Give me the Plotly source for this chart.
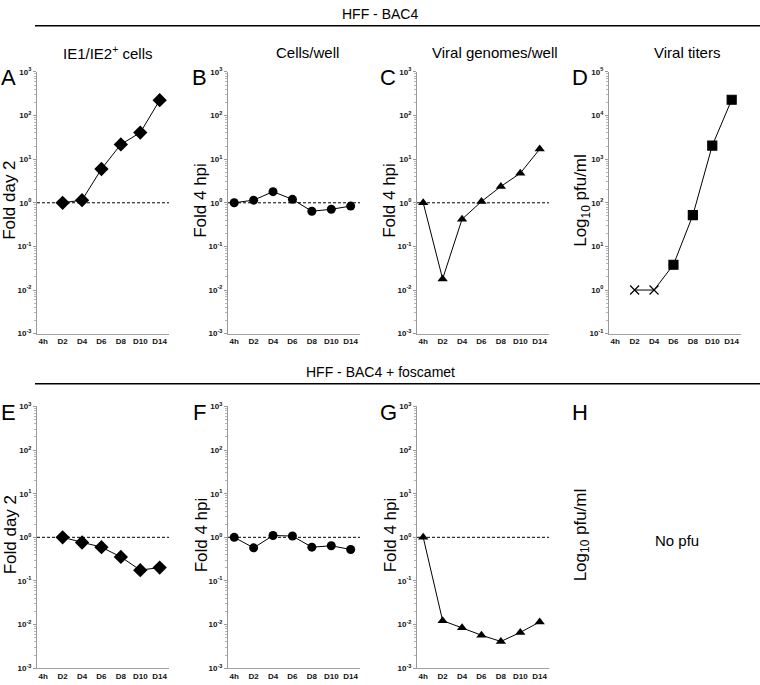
import plotly.graph_objects as go

# ---------------- data ----------------
categories = ["4h", "D2", "D4", "D6", "D8", "D10", "D14"]

ie_bac4 = [None, 1.0, 1.15, 5.95, 21.8, 40.6, 225]
cells_bac4 = [1.0, 1.15, 1.8, 1.2, 0.64, 0.71, 0.84]
genomes_bac4 = [1.0, 0.018, 0.42, 1.07, 2.37, 4.75, 17]
titers_bac4 = [None, 1.0, 1.0, 3.8, 52, 2050, 23000]
titer_symbols = ["x-thin", "x-thin", "x-thin", "square", "square", "square", "square"]

ie_fos = [None, 1.0, 0.76, 0.595, 0.355, 0.177, 0.203]
cells_fos = [1.0, 0.575, 1.1, 1.07, 0.595, 0.64, 0.527]
genomes_fos = [1.0, 0.0123, 0.0084, 0.0057, 0.0041, 0.0066, 0.0115]

fold_ticks = [-3, -2, -1, 0, 1, 2, 3]
titer_ticks = [-1, 0, 1, 2, 3, 4, 5]

col_titles = ["IE1/IE2<sup>+</sup> cells", "Cells/well", "Viral genomes/well", "Viral titers"]
row_headers = ["HFF - BAC4", "HFF - BAC4 + foscamet"]
panel_letters = ["A", "B", "C", "D", "E", "F", "G", "H"]
y_titles = ["Fold day 2", "Fold 4 hpi", "Fold 4 hpi", "Log<sub>10</sub> pfu/ml"]

# ---------------- layout helpers ----------------
W, H = 760, 685
FONT = "Liberation Sans, Arial, Helvetica, sans-serif"


def px(x, y):
    return x / W, 1 - y / H


col_x0 = [37, 228, 417, 609]
col_w = 132
row_y = [(67, 333), (407, 673)]  # top pixel, bottom pixel of plotting area

fig = go.Figure()

series = [
    (ie_bac4, "diamond", 11, True),
    (cells_bac4, "circle", 9, True),
    (genomes_bac4, "triangle-up", 9, True),
    (titers_bac4, None, 9, False),
    (ie_fos, "diamond", 11, True),
    (cells_fos, "circle", 9, True),
    (genomes_fos, "triangle-up", 9, True),
    (None, None, 9, False),
]

idx = list(range(len(categories)))


def sup(e):
    return "10<sup>%d</sup>" % e


def ann(text, x, y, size, angle=0):
    ax, ay = px(x, y)
    fig.add_annotation(text=text, x=ax, y=ay, xref="paper", yref="paper",
                       xanchor="center", yanchor="middle", textangle=angle,
                       showarrow=False, font=dict(family=FONT, size=size, color="black"))


tickfont = dict(family=FONT, size=8, color="#111", weight="bold")

for k in range(8):
    r, c = divmod(k, 4)
    n = k + 1
    xa = "x" if n == 1 else "x%d" % n
    ya = "y" if n == 1 else "y%d" % n
    xkey = "xaxis" if n == 1 else "xaxis%d" % n
    ykey = "yaxis" if n == 1 else "yaxis%d" % n
    top, bot = row_y[r]
    x0 = col_x0[c]
    ticks = titer_ticks if c == 3 else fold_ticks

    fig.layout[xkey] = dict(
        domain=[x0 / W, (x0 + col_w) / W],
        anchor=ya,
        range=[-0.32, 6.48],
        tickmode="array",
        tickvals=idx,
        ticktext=categories,
        showline=True,
        linecolor="#a0a0a0",
        linewidth=1,
        ticks="",
        showgrid=False,
        zeroline=False,
        tickfont=tickfont,
        fixedrange=True,
    )
    fig.layout[ykey] = dict(
        domain=[1 - bot / H, 1 - top / H],
        anchor=xa,
        type="log",
        range=[ticks[0], ticks[-1]],
        tickmode="array",
        tickvals=[10 ** e for e in ticks],
        ticktext=[sup(e) for e in ticks],
        showline=True,
        linecolor="#9a9a9a",
        linewidth=1,
        ticks="outside",
        ticklen=3,
        tickcolor="#9a9a9a",
        minor=dict(ticks="outside", ticklen=2, tickcolor="#b5b5b5", dtick="D1", showgrid=False),
        showgrid=False,
        zeroline=False,
        tickfont=tickfont,
        fixedrange=True,
    )

    vals, sym, size, ref = series[k]
    if ref:
        fig.add_shape(type="line", xref=xa + " domain", yref=ya, x0=0, x1=1, y0=1, y1=1,
                      line=dict(color="black", width=1, dash="3px,2px"))
    if vals is not None:
        xs = [i for i, v in zip(idx, vals) if v is not None]
        ys = [v for v in vals if v is not None]
        if sym is None:
            syms = [s for s, v in zip(titer_symbols, vals) if v is not None]
            marker = dict(symbol=syms, size=size, color="black",
                          line=dict(color="black", width=1.2))
        else:
            marker = dict(symbol=sym, size=size, color="black")
        fig.add_trace(go.Scatter(x=xs, y=ys, xaxis=xa, yaxis=ya, mode="lines+markers",
                                 line=dict(color="black", width=1), marker=marker,
                                 showlegend=False, cliponaxis=False))

    ann(panel_letters[k], x0 - 29, top + 6, 22)
    ann(y_titles[c], x0 - 27, (top + bot) / 2 - 2, 17, -90)

# column titles
centers = [108, 307, 495, 687]
for c in range(4):
    ann(col_titles[c], centers[c], 47, 15)

# row headers + lines
for r, (ty, ly) in enumerate([(8, 20), (372, 384)]):
    ann(row_headers[r], 380, ty, 14)
    fig.add_shape(type="line", xref="paper", yref="paper", x0=35 / W, x1=1,
                  y0=1 - ly / H, y1=1 - ly / H, line=dict(color="black", width=1.5))

# No pfu
ann("No pfu", 677, 543, 15)

fig.update_layout(width=W, height=H, margin=dict(l=0, r=0, t=0, b=0),
                  paper_bgcolor="white", plot_bgcolor="white", showlegend=False)

fig.write_html("out.html", config={"displayModeBar": False},
               post_script="document.body.style.margin='0';")
